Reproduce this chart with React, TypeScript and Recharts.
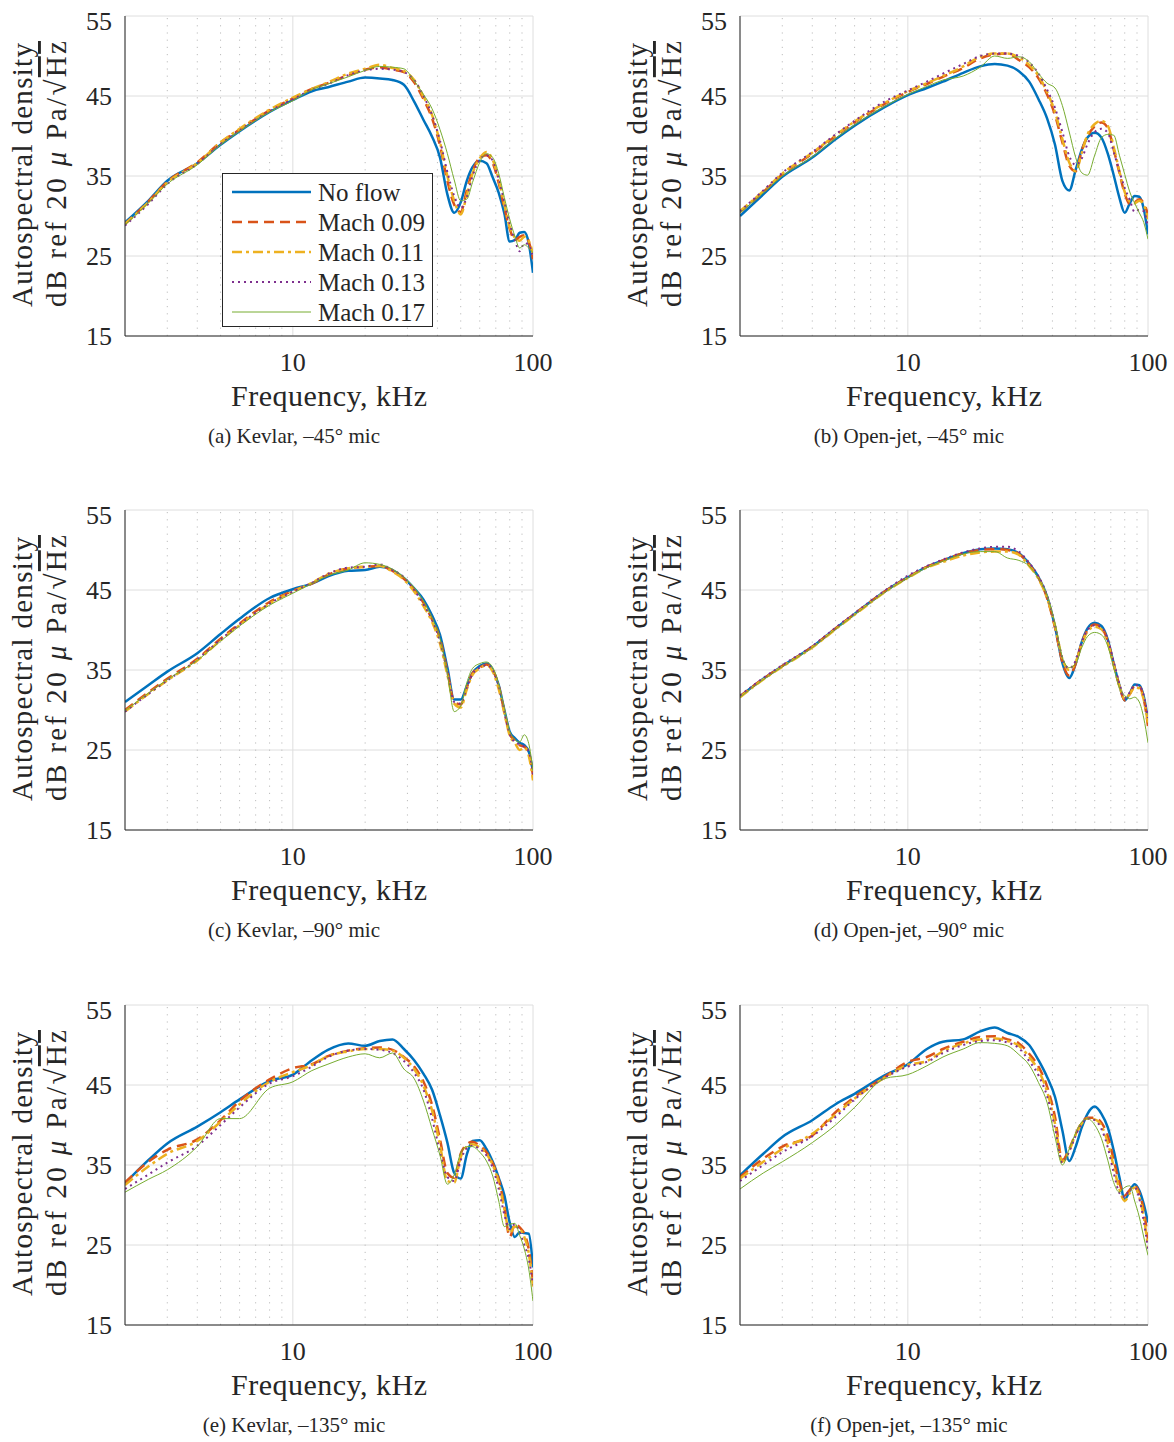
import React from 'react';
import { LineChart, Line, XAxis, YAxis, CartesianGrid, ReferenceLine } from 'recharts';

// shared frequency grid, kHz
const FREQ = [2, 2.5, 3, 4, 5, 6, 8, 10, 12, 14, 17, 20, 23, 26, 29, 32, 35, 38, 41, 44, 47, 50, 53, 56, 60, 64, 68, 72, 76, 80, 84, 88, 92, 96, 100];
const X_TICKS = [10, 100];
const Y_TICKS = [15, 25, 35, 45, 55];
const MINOR = [3, 4, 5, 6, 7, 8, 9, 20, 30, 40, 50, 60, 70, 80, 90];

// (a) Kevlar, -45
const A_NF = [29.2, 31.9, 34.4, 36.6, 38.9, 40.6, 43.0, 44.5, 45.6, 46.1, 46.8, 47.3, 47.2, 47.0, 46.4, 44.3, 42.0, 39.9, 37.3, 32.7, 30.4, 31.7, 34.4, 36.1, 36.9, 36.6, 34.8, 32.9, 30.3, 26.8, 27.0, 27.9, 28.0, 26.6, 22.9];
const A_09 = [29.0, 31.8, 34.3, 36.7, 39.2, 40.8, 43.2, 44.7, 45.9, 46.6, 47.6, 48.3, 48.6, 48.3, 48.0, 46.7, 44.6, 42.2, 38.8, 34.4, 31.4, 30.5, 33.2, 35.6, 37.3, 37.6, 36.6, 34.1, 31.0, 28.4, 27.0, 27.4, 27.6, 26.8, 24.6];
const A_11 = [29.0, 31.7, 34.2, 36.6, 39.2, 40.9, 43.3, 44.8, 45.9, 46.7, 47.8, 48.4, 48.9, 48.5, 48.1, 47.0, 44.9, 42.6, 39.2, 35.0, 31.9, 30.2, 32.6, 35.3, 37.2, 38.0, 37.0, 34.5, 31.4, 28.6, 27.3, 26.9, 27.4, 26.9, 25.2];
const A_13 = [28.8, 31.5, 34.0, 36.5, 39.0, 40.7, 43.1, 44.6, 45.8, 46.5, 47.6, 48.2, 48.4, 48.3, 48.0, 47.0, 45.0, 42.6, 39.4, 35.5, 32.5, 31.0, 32.4, 35.0, 37.0, 37.6, 36.9, 34.6, 31.8, 29.0, 27.0, 25.6, 26.6, 26.4, 24.8];
const A_17 = [28.9, 31.6, 34.0, 36.4, 38.9, 40.6, 43.0, 44.4, 45.8, 46.5, 47.4, 48.2, 48.7, 48.6, 48.4, 46.9, 45.2, 43.4, 40.8, 37.8, 34.5, 31.9, 32.1, 34.2, 36.7, 37.8, 37.3, 35.3, 32.3, 29.6, 27.5, 26.0, 26.4, 26.0, 25.4];

// (b) Open-jet, -45
const B_NF = [30.0, 32.7, 34.9, 37.3, 39.6, 41.3, 43.6, 45.1, 46.0, 46.8, 47.9, 48.7, 49.0, 48.8, 48.1, 46.8, 44.6, 42.2, 38.9, 34.4, 33.2, 35.8, 38.3, 39.8, 40.4, 39.8, 37.8, 35.1, 32.3, 30.4, 31.6, 32.5, 32.4, 30.9, 27.7];
const B_09 = [30.5, 33.0, 35.2, 37.8, 40.0, 41.7, 44.0, 45.5, 46.5, 47.4, 48.5, 49.7, 50.2, 50.3, 49.5, 48.6, 47.2, 45.2, 42.6, 39.2, 36.3, 35.6, 38.2, 40.0, 41.2, 41.7, 41.0, 38.3, 35.4, 32.8, 31.5, 31.7, 32.1, 31.6, 30.2];
const B_11 = [30.6, 33.1, 35.3, 37.9, 40.1, 41.8, 44.1, 45.6, 46.6, 47.5, 48.7, 49.9, 50.3, 50.3, 49.8, 48.9, 47.5, 45.5, 43.0, 39.6, 36.7, 35.6, 37.9, 40.2, 41.5, 41.9, 41.3, 38.6, 35.6, 33.0, 31.8, 31.6, 31.9, 31.4, 29.6];
const B_13 = [30.6, 33.2, 35.4, 38.0, 40.2, 41.9, 44.3, 45.7, 46.8, 47.8, 49.0, 50.0, 50.3, 50.3, 50.0, 49.2, 47.8, 45.8, 43.5, 40.5, 37.5, 36.4, 37.2, 39.0, 40.5, 40.9, 40.4, 38.0, 35.6, 33.5, 32.0, 30.5, 30.8, 30.6, 28.6];
const B_17 = [30.4, 32.9, 35.0, 37.4, 39.7, 41.4, 43.7, 45.2, 46.2, 47.0, 47.5, 48.6, 50.0, 49.7, 49.9, 49.3, 47.8, 46.6, 46.0, 43.8, 40.5, 37.3, 35.4, 35.1, 37.6, 39.8, 40.2, 40.1, 37.6, 35.2, 33.0, 31.6, 30.4, 29.2, 27.1];

// (c) Kevlar, -90
const C_NF = [31.0, 33.1, 34.8, 37.1, 39.5, 41.4, 44.0, 45.1, 45.8, 46.7, 47.4, 47.5, 47.9, 47.5, 46.5, 45.2, 43.8, 41.8, 39.4, 35.3, 31.3, 31.3, 33.0, 34.6, 35.5, 35.8, 35.0, 33.1, 30.0, 27.3, 26.5, 25.9, 25.6, 24.8, 22.3];
const C_09 = [30.0, 32.2, 33.9, 36.4, 38.9, 40.8, 43.5, 44.9, 45.8, 46.9, 47.7, 47.9, 48.0, 47.4, 46.4, 45.0, 43.4, 41.3, 38.9, 34.8, 31.0, 30.7, 32.8, 34.6, 35.3, 35.7, 35.0, 33.0, 29.8, 27.0, 26.2, 25.6, 25.4, 24.6, 21.8];
const C_11 = [29.8, 32.0, 33.7, 36.2, 38.7, 40.6, 43.3, 44.8, 45.9, 47.0, 47.7, 47.9, 48.0, 47.3, 46.3, 44.8, 43.0, 41.0, 38.3, 34.4, 30.8, 30.3, 32.6, 34.4, 35.2, 35.6, 34.8, 32.6, 29.6, 26.8, 25.9, 25.0, 25.3, 24.3, 21.2];
const C_13 = [29.8, 32.0, 33.7, 36.3, 38.8, 40.7, 43.3, 44.8, 45.9, 47.0, 47.8, 47.9, 48.2, 47.5, 46.6, 45.0, 43.2, 41.3, 38.6, 34.8, 31.0, 30.8, 32.8, 34.5, 35.3, 35.6, 35.0, 33.0, 29.9, 27.0, 26.0, 25.7, 25.4, 24.8, 22.0];
const C_17 = [29.9, 32.1, 33.8, 36.2, 38.6, 40.5, 43.1, 44.6, 45.8, 46.8, 47.5, 48.4, 48.2, 47.6, 46.6, 45.3, 43.6, 41.5, 38.9, 34.5, 29.8, 30.5, 33.4, 35.2, 35.8, 36.0, 35.3, 33.2, 30.2, 27.3, 26.3, 26.0, 26.9, 25.8, 22.4];

// (d) Open-jet, -90
const D_NF = [31.7, 33.9, 35.5, 37.9, 40.2, 42.0, 44.8, 46.6, 47.9, 48.7, 49.6, 50.1, 50.2, 50.1, 49.6, 48.3, 46.6, 44.2, 40.4, 35.9, 34.0, 35.8, 38.5, 40.2, 40.9, 40.5, 38.8, 35.8, 33.1, 31.2, 32.1, 33.2, 33.1, 31.7, 28.7];
const D_09 = [31.7, 33.9, 35.5, 37.9, 40.2, 42.0, 44.8, 46.6, 47.9, 48.7, 49.6, 50.0, 50.1, 50.0, 49.5, 48.2, 46.5, 44.0, 40.3, 36.0, 34.3, 35.8, 38.4, 40.0, 40.7, 40.3, 38.6, 35.7, 33.0, 31.2, 32.0, 33.0, 32.9, 31.4, 28.0];
const D_11 = [31.6, 33.8, 35.4, 37.8, 40.1, 41.9, 44.7, 46.5, 47.8, 48.5, 49.3, 49.7, 49.8, 49.8, 49.4, 48.0, 46.4, 44.0, 40.5, 36.4, 35.0, 36.0, 38.3, 39.8, 40.4, 40.1, 38.4, 35.6, 33.0, 31.4, 32.0, 32.8, 32.7, 31.3, 28.3];
const D_13 = [31.8, 34.0, 35.6, 38.0, 40.3, 42.1, 44.9, 46.8, 48.0, 48.8, 49.7, 50.2, 50.4, 50.4, 49.8, 48.4, 46.7, 44.3, 40.6, 36.5, 35.2, 36.2, 38.5, 40.0, 40.6, 40.3, 38.8, 36.0, 33.3, 31.5, 32.2, 33.1, 33.0, 31.8, 29.0];
const D_17 = [31.6, 33.8, 35.4, 37.8, 40.1, 41.9, 44.7, 46.5, 47.8, 48.6, 49.5, 49.8, 49.8, 49.0, 48.7, 48.0, 46.4, 44.3, 40.8, 36.6, 35.3, 35.8, 37.8, 39.2, 39.7, 39.4, 38.0, 35.3, 32.8, 31.8, 31.4, 31.6, 31.0, 29.0, 25.9];

// (e) Kevlar, -135
const E_NF = [32.7, 35.6, 37.7, 39.8, 41.6, 43.2, 45.5, 46.3, 48.1, 49.4, 50.2, 49.9, 50.5, 50.7, 49.5, 48.1, 46.4, 44.4, 41.2, 37.8, 34.0, 33.3, 36.3, 38.0, 38.1, 37.0, 35.4, 33.4, 31.2, 27.8, 26.0, 26.6, 26.5, 26.4, 22.2];
const E_09 = [32.8, 35.4, 36.9, 38.2, 40.6, 43.0, 45.7, 47.1, 47.6, 48.6, 49.3, 49.6, 49.7, 49.4, 48.5, 47.3, 45.4, 42.5, 38.2, 34.0, 33.4, 36.4, 37.6, 37.9, 37.4, 36.6, 35.2, 33.2, 29.8, 26.0, 27.6, 27.2, 26.4, 24.5, 20.4];
const E_11 = [32.5, 34.8, 36.4, 38.0, 40.4, 42.6, 45.4, 46.6, 47.5, 48.6, 49.2, 49.5, 49.5, 49.3, 48.4, 47.0, 44.9, 41.8, 37.5, 33.0, 32.8, 36.0, 37.3, 37.6, 37.2, 36.4, 35.0, 32.8, 29.5, 26.5, 27.3, 27.0, 26.0, 24.0, 19.8];
const E_13 = [32.0, 33.8, 35.3, 37.4, 40.0, 42.2, 45.2, 46.1, 47.3, 48.5, 49.3, 49.5, 49.4, 49.0, 48.0, 46.5, 44.4, 40.8, 36.6, 33.5, 33.0, 35.6, 37.1, 37.4, 37.0, 36.2, 34.6, 32.0, 28.8, 27.0, 27.6, 26.6, 25.0, 23.3, 20.0];
const E_17 = [31.6, 33.2, 34.4, 37.3, 40.8, 40.8, 44.6, 45.4, 46.8, 47.6, 48.5, 48.9, 48.4, 49.0, 47.0, 45.8, 43.0, 39.5, 36.2, 32.6, 33.8, 36.5, 37.3, 37.3, 36.6, 35.5, 33.6, 30.5, 27.3, 27.6, 27.7, 26.2, 24.5, 22.0, 18.0];

// (f) Open-jet, -135
const F_NF = [33.7, 36.4, 38.5, 40.6, 42.6, 43.9, 46.2, 47.6, 49.5, 50.4, 50.7, 51.7, 52.2, 51.5, 51.0, 50.0, 48.1, 46.0, 43.5, 39.3, 35.5, 37.3, 39.7, 41.4, 42.3, 41.4, 39.7, 36.8, 33.5, 30.7, 31.8, 32.6, 31.8, 30.1, 27.8];
const F_09 = [33.5, 35.8, 37.3, 38.7, 41.6, 43.5, 46.0, 47.9, 48.5, 49.5, 50.4, 51.0, 51.1, 50.7, 50.2, 48.9, 47.3, 44.8, 41.0, 35.6, 37.0, 38.9, 40.3, 40.9, 40.9, 40.3, 38.6, 35.6, 32.8, 31.2, 31.9, 32.4, 31.5, 29.3, 25.7];
const F_11 = [33.3, 35.4, 37.0, 38.9, 41.3, 43.3, 45.9, 47.5, 48.0, 49.2, 50.2, 50.7, 50.8, 50.5, 49.9, 48.5, 46.8, 44.2, 40.2, 35.4, 36.8, 38.8, 40.2, 40.8, 40.7, 39.9, 37.8, 34.8, 32.0, 30.5, 31.5, 32.2, 31.0, 28.5, 24.8];
const F_13 = [33.0, 35.0, 36.6, 38.6, 41.0, 43.2, 45.9, 47.3, 47.9, 49.0, 50.0, 50.5, 50.6, 50.3, 49.6, 48.0, 46.2, 43.6, 39.6, 35.3, 36.7, 38.7, 40.2, 40.8, 40.6, 39.5, 37.2, 34.0, 31.5, 31.0, 32.0, 32.2, 30.8, 28.0, 24.5];
const F_17 = [32.0, 34.0, 35.4, 37.8, 40.0, 42.2, 45.8, 46.3, 47.4, 48.5, 49.5, 50.3, 50.2, 49.9, 48.8, 47.5, 45.3, 42.8, 38.5, 35.0, 37.0, 39.0, 40.4, 40.8, 40.0, 38.3, 35.6, 32.8, 31.6, 32.2, 32.4, 30.5, 28.5, 26.0, 23.7];

const SERIES = [
  { key: 'nf', name: 'No flow', color: '#0072BD', width: 2.5, dash: undefined },
  { key: 'm09', name: 'Mach 0.09', color: '#D95319', width: 2.5, dash: '10 6' },
  { key: 'm11', name: 'Mach 0.11', color: '#EDB120', width: 2.5, dash: '10 4 3 4' },
  { key: 'm13', name: 'Mach 0.13', color: '#7E2F8E', width: 2, dash: '2 4' },
  { key: 'm17', name: 'Mach 0.17', color: '#77AC30', width: 1, dash: undefined },
];

const PANELS = [
  { id: 'a', caption: '(a) Kevlar, \u201345\u00b0 mic', left: 125, top: 16, data: [A_NF, A_09, A_11, A_13, A_17] },
  { id: 'b', caption: '(b) Open-jet, \u201345\u00b0 mic', left: 740, top: 16, data: [B_NF, B_09, B_11, B_13, B_17] },
  { id: 'c', caption: '(c) Kevlar, \u201390\u00b0 mic', left: 125, top: 510, data: [C_NF, C_09, C_11, C_13, C_17] },
  { id: 'd', caption: '(d) Open-jet, \u201390\u00b0 mic', left: 740, top: 510, data: [D_NF, D_09, D_11, D_13, D_17] },
  { id: 'e', caption: '(e) Kevlar, \u2013135\u00b0 mic', left: 125, top: 1005, data: [E_NF, E_09, E_11, E_13, E_17] },
  { id: 'f', caption: '(f) Open-jet, \u2013135\u00b0 mic', left: 740, top: 1005, data: [F_NF, F_09, F_11, F_13, F_17] },
];

const FONT = "'Liberation Serif', 'Times New Roman', serif";
const INK = '#262626';
const tickStyle = { fontSize: 26, fill: INK, fontFamily: FONT };

function Panel({ p }: { p: any }) {
  const rows = FREQ.map((f, i) => {
    const r: any = { f };
    SERIES.forEach((s, k) => (r[s.key] = p.data[k][i]));
    return r;
  });
  return (
    <div style={{ position: 'absolute', left: p.left - 70, top: p.top - 10 }}>
      <LineChart
        width={508}
        height={380}
        data={rows}
        margin={{ top: 10, right: 30, left: 0, bottom: 0 }}
        style={{ fontFamily: FONT }}
      >
        <CartesianGrid stroke="#dedede" />
        {MINOR.map((m) => (
          <ReferenceLine key={m} x={m} stroke="#bdbdbd" strokeDasharray="1.2 6" />
        ))}
        <XAxis
          dataKey="f"
          type="number"
          scale="log"
          domain={[2, 100]}
          ticks={X_TICKS}
          allowDataOverflow
          height={50}
          tickLine={false}
          tickMargin={11}
          axisLine={{ stroke: INK }}
          tick={tickStyle}
        />
        <YAxis
          type="number"
          domain={[15, 55]}
          ticks={Y_TICKS}
          allowDataOverflow
          width={70}
          tickLine={false}
          tickMargin={7}
          axisLine={{ stroke: INK }}
          tick={tickStyle}
        />
        {SERIES.map((s) => (
          <Line
            key={s.key}
            type="monotone"
            dataKey={s.key}
            stroke={s.color}
            strokeWidth={s.width}
            strokeDasharray={s.dash}
            dot={false}
            isAnimationActive={false}
          />
        ))}
      </LineChart>
    </div>
  );
}

function Legend({ left, top }: { left: number; top: number }) {
  return (
    <div
      style={{
        position: 'absolute',
        left,
        top,
        width: 209,
        height: 152,
        border: `1.5px solid ${INK}`,
        background: '#fff',
      }}
    >
      <svg width={209} height={152}>
        {SERIES.map((s, i) => (
          <g key={s.key}>
            <line
              x1={9}
              x2={88}
              y1={18 + i * 30}
              y2={18 + i * 30}
              stroke={s.color}
              strokeWidth={s.width}
              strokeDasharray={s.dash}
            />
            <text x={95} y={18 + i * 30} dy="0.34em" fontSize={25} fontFamily={FONT} fill={INK}>
              {s.name}
            </text>
          </g>
        ))}
      </svg>
    </div>
  );
}

function Labels({ p }: { p: any }) {
  const L = p.left;
  const T = p.top;
  return (
    <g fill={INK} fontFamily={FONT}>
      <text
        transform={`translate(${L - 93},${T + 159}) rotate(-90)`}
        textAnchor="middle"
        fontSize={29}
        textLength={264}
        lengthAdjust="spacing"
      >
        Autospectral density
      </text>
      <text
        transform={`translate(${L - 59},${T + 158}) rotate(-90)`}
        textAnchor="middle"
        fontSize={29}
        textLength={266}
        lengthAdjust="spacing"
      >
        dB ref 20 <tspan fontStyle="italic">{'\u03bc'}</tspan> Pa/{'\u221a'}
        <tspan style={{ textDecoration: 'overline' }}>Hz</tspan>
      </text>
      <text x={L + 204} y={T + 390} textAnchor="middle" fontSize={30} textLength={196} lengthAdjust="spacing">
        Frequency, kHz
      </text>
      <text x={L + 169} y={T + 427} textAnchor="middle" fontSize={21}>
        {p.caption}
      </text>
    </g>
  );
}

export default function App() {
  return (
    <div style={{ position: 'absolute', left: 0, top: 0, width: 1174, height: 1442, background: '#fff' }}>
      {PANELS.map((p) => (
        <Panel key={p.id} p={p} />
      ))}
      <svg
        width={1174}
        height={1442}
        style={{ position: 'absolute', left: 0, top: 0, pointerEvents: 'none' }}
      >
        {PANELS.map((p) => (
          <Labels key={p.id} p={p} />
        ))}
      </svg>
      <Legend left={222} top={173} />
    </div>
  );
}
